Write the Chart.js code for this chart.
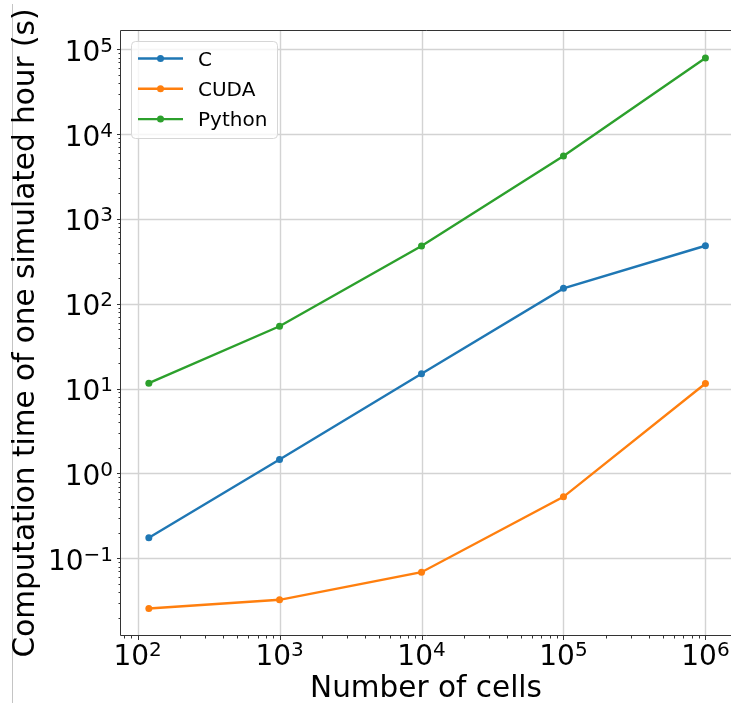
<!DOCTYPE html>
<html>
<head>
<meta charset="utf-8">
<script src="https://cdn.jsdelivr.net/npm/chart.js@4"></script>
<style>
  html, body { margin: 0; padding: 0; background: #fff; }
  #wrap { width: 731px; height: 705px; }
</style>
</head>
<body>
<div id="wrap"><canvas id="timingChart" width="731" height="705"></canvas></div>
<script>
const cells = [120, 1000, 10000, 100000, 1000000];
const timeC = [0.175, 1.46, 15.0, 152, 483];
const timeCuda = [0.0256, 0.0324, 0.0685, 0.53, 11.5];
const timePython = [11.6, 54.3, 480, 5530, 79000];

const seriesNames = ["C", "CUDA", "Python"];
const seriesColors = ["#1f77b4", "#ff7f0e", "#2ca02c"];

// tick labels are 10^n, stored as exponents
const xTickExps = [2, 3, 4, 5, 6];
const yTickExps = [-1, 0, 1, 2, 3, 4, 5];

const xTitle = "Number of cells";
const yTitle = "Computation time of one simulated hour (s)";

const FONT = '"DejaVu Sans", sans-serif';

function toPoints(xs, ys) {
    return xs.map((x, i) => ({ x: x, y: ys[i] }));
}

// minor log ticks (2..9 x 10^n) inside [min, max]
function minorValues(min, max) {
    const out = [];
    for (let e = Math.floor(Math.log10(min)); e <= Math.ceil(Math.log10(max)); e++) {
        for (let m = 2; m <= 9; m++) {
            const v = m * Math.pow(10, e);
            if (v >= min && v <= max) out.push(v);
        }
    }
    return out;
}

function drawPower(ctx, exp, x, y, align) {
    const base = "10";
    const sup = exp < 0 ? "\u2212" + Math.abs(exp) : String(exp);
    ctx.font = "28px " + FONT;
    const wb = ctx.measureText(base).width;
    ctx.font = "20px " + FONT;
    const ws = ctx.measureText(sup).width;
    const x0 = align === "center" ? x - (wb + ws) / 2 : x - (wb + ws);
    ctx.textAlign = "left";
    ctx.textBaseline = "alphabetic";
    ctx.font = "28px " + FONT;
    ctx.fillText(base, x0, y);
    ctx.font = "20px " + FONT;
    ctx.fillText(sup, x0 + wb, y - 9);
}

const mplAxes = {
    id: "mplAxes",
    beforeDatasetsDraw(chart) {
        const ctx = chart.ctx, a = chart.chartArea;
        const xs = chart.scales.x, ys = chart.scales.y;
        ctx.save();
        ctx.strokeStyle = "#d3d3d3";
        ctx.lineWidth = 1.4;
        xTickExps.forEach(e => {
            const px = Math.round(xs.getPixelForValue(Math.pow(10, e))) + 0.5;
            ctx.beginPath(); ctx.moveTo(px, a.top); ctx.lineTo(px, a.bottom); ctx.stroke();
        });
        yTickExps.forEach(e => {
            const py = Math.round(ys.getPixelForValue(Math.pow(10, e))) + 0.5;
            ctx.beginPath(); ctx.moveTo(a.left, py); ctx.lineTo(a.right, py); ctx.stroke();
        });
        ctx.restore();
    },
    afterDraw(chart) {
        const ctx = chart.ctx, a = chart.chartArea;
        const xs = chart.scales.x, ys = chart.scales.y;
        ctx.save();

        // figure edge line on the left
        ctx.strokeStyle = "#c4c4c4";
        ctx.lineWidth = 1;
        ctx.beginPath(); ctx.moveTo(12.5, 4); ctx.lineTo(12.5, 703); ctx.stroke();

        // spines (the right one falls outside the picture)
        ctx.strokeStyle = "#333";
        ctx.lineWidth = 1;
        ctx.beginPath();
        ctx.moveTo(a.right + 2, a.top + 0.5);
        ctx.lineTo(a.left - 0.5, a.top + 0.5);
        ctx.lineTo(a.left - 0.5, a.bottom - 0.5);
        ctx.lineTo(a.right + 2, a.bottom - 0.5);
        ctx.stroke();

        // tick marks
        ctx.beginPath();
        xTickExps.forEach(e => {
            const px = Math.round(xs.getPixelForValue(Math.pow(10, e))) + 0.5;
            ctx.moveTo(px, a.bottom); ctx.lineTo(px, a.bottom + 4);
        });
        minorValues(xs.min, xs.max).forEach(v => {
            const px = Math.round(xs.getPixelForValue(v)) + 0.5;
            ctx.moveTo(px, a.bottom); ctx.lineTo(px, a.bottom + 2.5);
        });
        yTickExps.forEach(e => {
            const py = Math.round(ys.getPixelForValue(Math.pow(10, e))) + 0.5;
            ctx.moveTo(a.left, py); ctx.lineTo(a.left - 4, py);
        });
        minorValues(ys.min, ys.max).forEach(v => {
            const py = Math.round(ys.getPixelForValue(v)) + 0.5;
            ctx.moveTo(a.left, py); ctx.lineTo(a.left - 2.5, py);
        });
        ctx.stroke();

        // tick labels
        ctx.fillStyle = "#000";
        xTickExps.forEach(e => drawPower(ctx, e, xs.getPixelForValue(Math.pow(10, e)), a.bottom + 29, "center"));
        yTickExps.forEach(e => drawPower(ctx, e, a.left - 8, ys.getPixelForValue(Math.pow(10, e)) + 11.5, "right"));

        // axis titles
        ctx.font = "29.5px " + FONT;
        ctx.textAlign = "center";
        ctx.textBaseline = "alphabetic";
        ctx.fillText(xTitle, (a.left + a.right) / 2, 697);
        ctx.save();
        ctx.translate(34, (a.top + a.bottom) / 2);
        ctx.rotate(-Math.PI / 2);
        ctx.fillText(yTitle, 0, 0);
        ctx.restore();

        // legend
        const lx = 131.5, ly = 41.5, lw = 146, lh = 97;
        ctx.fillStyle = "rgba(255,255,255,0.8)";
        ctx.strokeStyle = "#d6d6d6";
        ctx.lineWidth = 1;
        ctx.beginPath();
        ctx.roundRect(lx, ly, lw, lh, 4);
        ctx.fill(); ctx.stroke();
        chart.data.datasets.forEach((ds, i) => {
            const cy = 58.5 + i * 30.3;
            ctx.strokeStyle = ds.borderColor;
            ctx.lineWidth = 2.4;
            ctx.beginPath(); ctx.moveTo(138, cy); ctx.lineTo(183, cy); ctx.stroke();
            ctx.fillStyle = ds.borderColor;
            ctx.beginPath(); ctx.arc(160.5, cy, 3.5, 0, Math.PI * 2); ctx.fill();
            ctx.fillStyle = "#000";
            ctx.font = "20px " + FONT;
            ctx.textAlign = "left";
            ctx.fillText(ds.label, 198, cy + 7);
        });
        ctx.restore();
    }
};

const seriesValues = [timeC, timeCuda, timePython];

const timingConfig = {
    type: "line",
    data: {
        datasets: seriesNames.map((name, i) => ({
            label: name,
            data: toPoints(cells, seriesValues[i]),
            borderColor: seriesColors[i],
            backgroundColor: seriesColors[i],
            borderWidth: 2.4,
            pointRadius: 3.5,
            pointBorderWidth: 0,
            pointBackgroundColor: seriesColors[i],
            tension: 0,
            fill: false
        }))
    },
    options: {
        responsive: false,
        animation: false,
        devicePixelRatio: 1,
        // no auto padding, so the plot runs right up to the edge
        layout: { autoPadding: false, padding: { left: 121, top: 30, right: 0, bottom: 69 } },
        plugins: {
            legend: { display: false },
            tooltip: { enabled: false }
        },
        scales: {
            x: {
                type: "logarithmic",
                min: 76.4,
                max: 1514000,
                grid: { display: false, drawTicks: false },
                border: { display: false },
                ticks: { display: false },
                title: { display: false }
            },
            y: {
                type: "logarithmic",
                min: 0.01213,
                max: 168800,
                grid: { display: false, drawTicks: false },
                border: { display: false },
                ticks: { display: false },
                title: { display: false }
            }
        }
    },
    plugins: [mplAxes]
};

new Chart(document.getElementById("timingChart"), timingConfig);
</script>
</body>
</html>
